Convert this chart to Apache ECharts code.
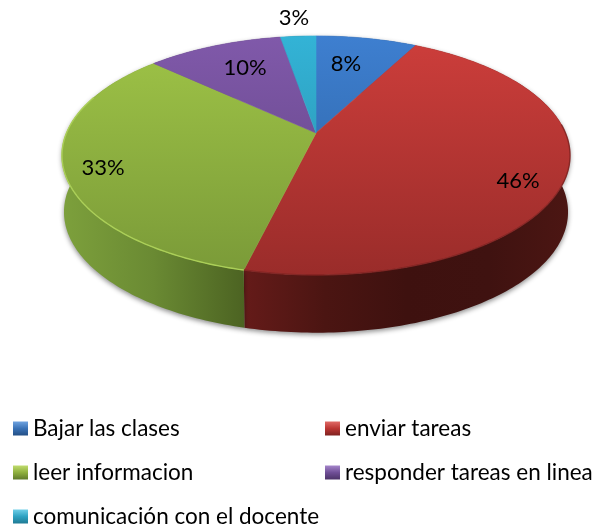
<!DOCTYPE html>
<html>
<head>
<meta charset="utf-8">
<style>html,body{margin:0;padding:0;background:#fff}#c{width:595px;height:529px}</style>
<script src="https://cdn.jsdelivr.net/npm/echarts@6/dist/echarts.min.js"></script>
</head>
<body>
<div id="c"></div>
<script>
// --- data ---
const categories = ['Bajar las clases', 'enviar tareas', 'leer informacion', 'responder tareas en linea', 'comunicación con el docente'];
const values = [7.7, 46.1, 33.1, 10.4, 2.7];

// --- style / layout (separate from data) ---
const topColors = [['#3e7fd0', '#2a5f9c'], ['#cd3e3b', '#9a2c2a'], ['#9fc447', '#7a9a38'], ['#8059aa', '#5f4281'], ['#33b3d6', '#288ba7']];
const wallColors = [['#2a5080', '#1d3a5e'], ['#651b19', '#4b1512', '#3e110f', '#3f1210', '#4c1613'], ['#7da03c', '#6a8a33', '#4c6322'], ['#4a3366', '#3a2850'], ['#1f6f85', '#175a6d']];
const rimColors = [null, 'rgba(120,32,30,0.7)', '#abcf58', null, null];
const rimRange = [85, 290];
const legendIcon = [['#6fa3e0', '#3a72b6', '#234f85'], ['#e06a66', '#bb3633', '#7f2220'], ['#c0dc6e', '#8fb03e', '#5f7a2b'], ['#a586cb', '#704f97', '#4c3368'], ['#6fcfe8', '#2ea2c2', '#1f7a94']];
const legendPos = [[13, 417], [325, 417], [13, 461], [325, 461], [13, 505]];
const labelPos = [[346, 64], [518, 181], [103, 168], [245, 68], [294, 18]];
const FONT = 'Lato';
const LABEL_SIZE = 22;
const LEGEND_SIZE = 22.5;

// pie geometry: perspective projection of a disc
const G = { cx: 316, apexY: 133, a: 249.5, k: 115.3, p: -0.188, ellY: 155.5, botY: 212, botX: 252 / 254, botR: 1.01 };
function project(deg) {
  const t = deg * Math.PI / 180, u = Math.sin(t), v = -Math.cos(t), w = 1 + G.p * v;
  return [G.cx + G.a * u / w, G.apexY + G.k * v / w];
}
function projectBottom(deg) {
  const q = project(deg);
  return [G.cx + (q[0] - G.cx) * G.botX, G.botY + (q[1] - G.ellY) * G.botR];
}
const total = values.reduce((s, v) => s + v, 0);
function stops(cols) { return cols.map((c, i) => ({ offset: cols.length > 1 ? i / (cols.length - 1) : 0, color: c })); }

function renderSlice(i, api) {
  const before = values.slice(0, i).reduce((s, v) => s + v, 0);
  const start = before / total * 360, end = (before + api.value(0)) / total * 360;
  const rim = [], bottom = [], edge = [];
  const n = Math.max(2, Math.ceil(end - start));
  for (let k = 0; k <= n; k++) {
    const d = start + (end - start) * k / n;
    rim.push(project(d));
    bottom.push(projectBottom(d));
    if (d >= rimRange[0] && d <= rimRange[1]) edge.push(project(d));
  }
  const xs = rim.concat(bottom).map(q => q[0]);
  const wallFill = new echarts.graphic.LinearGradient(Math.min(...xs), 0, Math.max(...xs), 0, stops(wallColors[i]), true);
  const topFill = new echarts.graphic.LinearGradient(0, 36, 0, 275, stops(topColors[i]), true);
  const children = [
    { type: 'polygon', z2: 1, shape: { points: rim.concat(bottom.slice().reverse()) },
      style: { fill: wallFill, shadowBlur: 5, shadowColor: 'rgba(0,0,0,0.45)', shadowOffsetY: 2 } },
    { type: 'polygon', z2: 5, shape: { points: [[G.cx, G.apexY]].concat(rim) },
      style: { fill: topFill, stroke: topFill, lineWidth: 0.6 } },
    { type: 'text', z2: 10, x: labelPos[i][0], y: labelPos[i][1],
      style: { text: Math.round(api.value(0) / total * 100) + '%', font: LABEL_SIZE + 'px ' + FONT, fill: '#000', align: 'center', verticalAlign: 'middle' } }
  ];
  if (rimColors[i] && edge.length > 1) {
    children.splice(2, 0, { type: 'polyline', z2: 6, shape: { points: edge }, style: { fill: null, stroke: rimColors[i], lineWidth: 1.4 } });
  }
  return { type: 'group', children };
}

const chart = echarts.init(document.getElementById('c'), null, { renderer: 'canvas' });
chart.setOption({
  animation: false,
  backgroundColor: '#fff',
  legend: categories.map((name, i) => ({
    data: [{ name, icon: 'rect', itemStyle: { color: { type: 'linear', x: 0, y: 0, x2: 0, y2: 1, colorStops: stops(legendIcon[i]) } } }],
    left: legendPos[i][0], top: legendPos[i][1], padding: 0,
    itemWidth: 15, itemHeight: 14, itemGap: 5, selectedMode: false,
    textStyle: { fontFamily: FONT, fontSize: LEGEND_SIZE, color: '#000' }
  })),
  series: categories.map((name, i) => ({
    type: 'custom', name, coordinateSystem: 'none', silent: true,
    data: [[values[i]]],
    renderItem: (params, api) => renderSlice(i, api)
  }))
});
</script>
</body>
</html>
